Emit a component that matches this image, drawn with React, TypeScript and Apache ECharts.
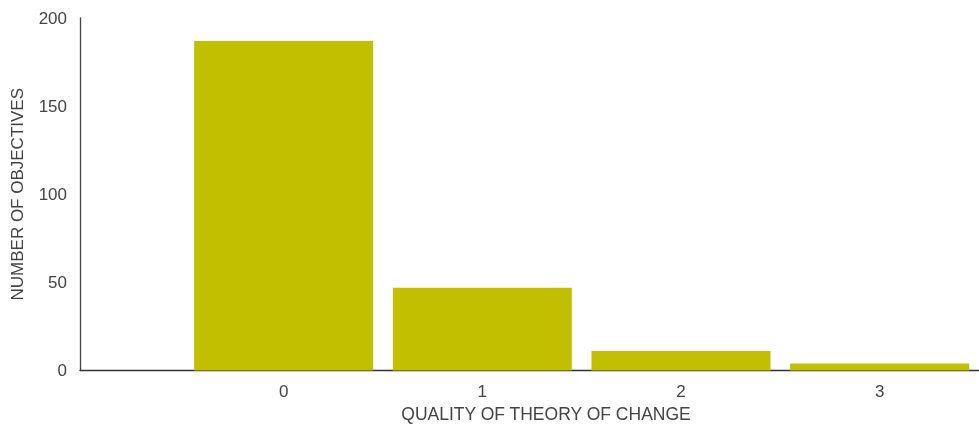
import React, { useEffect, useRef } from "react";
import * as echarts from "echarts";

const categories = [0, 1, 2, 3];
const values = [187, 47, 11, 4];
const yTicks = [0, 50, 100, 150, 200];

export default function App() {
  const ref = useRef<HTMLDivElement>(null);
  useEffect(() => {
    const chart = echarts.init(ref.current!, null, { renderer: "svg" });
    const font = "Liberation Sans";
    chart.setOption({
      animation: false,
      grid: { left: 80, top: 18, right: 0, bottom: 56.5, outerBoundsMode: "none", containLabel: false },
      xAxis: {
        type: "value",
        min: -1.025,
        max: 3.5,
        splitLine: { show: false },
        axisTick: { show: false },
        axisLine: { show: true, onZero: false, lineStyle: { color: "#333", width: 1.3 } },
        axisLabel: {
          color: "#444",
          fontSize: 17,
          fontFamily: font,
          margin: 12,
          customValues: categories,
          formatter: (v: number) => String(Math.round(v)),
        },
      },
      yAxis: {
        type: "value",
        min: yTicks[0],
        max: yTicks[yTicks.length - 1],
        interval: 50,
        splitLine: { show: false },
        axisTick: { show: false },
        axisLine: { show: true, onZero: false, lineStyle: { color: "#444", width: 1.3 } },
        axisLabel: { color: "#444", fontSize: 17, fontFamily: font, margin: 13 },
        name: "NUMBER OF OBJECTIVES",
        nameLocation: "middle",
        nameGap: 54,
        nameTextStyle: { color: "#444", fontSize: 17, fontFamily: font },
      },
      graphic: [
        {
          type: "text",
          x: 546,
          y: 414,
          style: {
            text: "QUALITY OF THEORY OF CHANGE",
            fill: "#444",
            fontSize: 17.5,
            fontFamily: font,
            align: "center",
            verticalAlign: "middle",
          },
        },
      ],
      series: [
        {
          type: "bar",
          barWidth: 179,
          itemStyle: { color: "#C2BE00" },
          data: categories.map((c, i) => [c, values[i]]),
        },
      ],
    });
    return () => chart.dispose();
  }, []);
  return (
    <div
      ref={ref}
      style={{ position: "fixed", left: 0, top: 0, width: 979, height: 427 }}
    />
  );
}
